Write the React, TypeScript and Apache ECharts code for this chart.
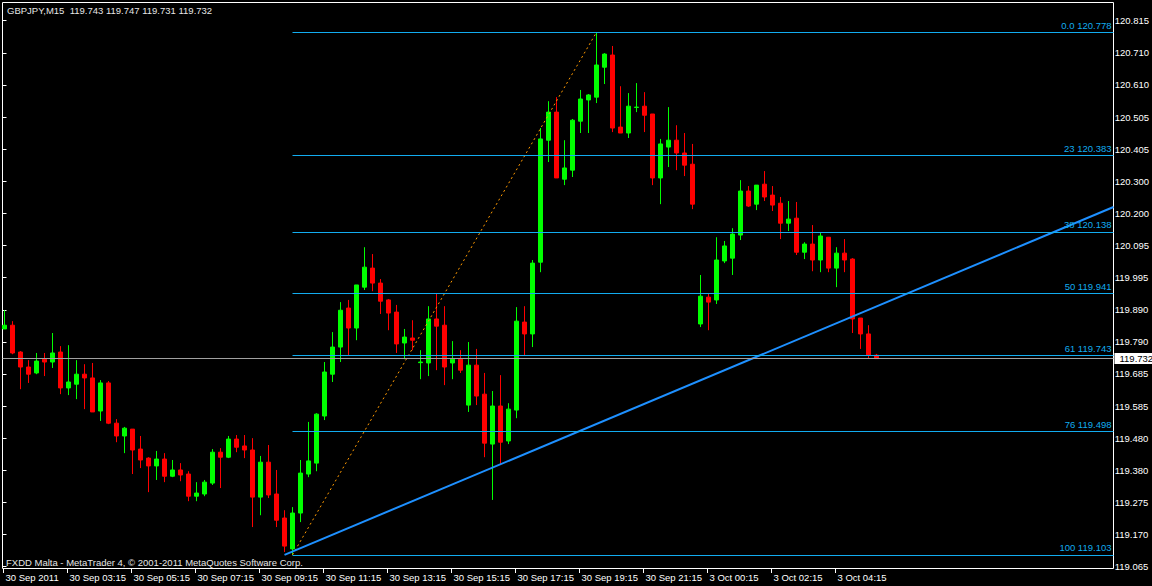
import React, { useEffect, useRef } from 'react';
import * as echarts from 'echarts';

// ---- data (GBPJPY M15) ----
const opens = [
  119.827, 119.839, 119.753, 119.705, 119.686, 119.730, 119.721, 119.753, 119.638, 119.650,
  119.682, 119.670, 119.564, 119.654, 119.525, 119.484, 119.506, 119.442, 119.413, 119.388,
  119.410, 119.355, 119.375, 119.362, 119.291, 119.298, 119.333, 119.432, 119.416, 119.474,
  119.452, 119.439, 119.288, 119.400, 119.298, 119.221, 119.122, 119.237, 119.362, 119.397,
  119.548, 119.682, 119.769, 119.894, 119.830, 119.961, 120.022, 119.974, 119.920, 119.881,
  119.782, 119.798, 119.719, 119.718, 119.859, 119.839, 119.718, 119.730, 119.583, 119.711,
  119.618, 119.458, 119.580, 119.468, 119.567, 119.849, 119.811, 120.041, 120.432, 120.522,
  120.307, 120.336, 120.493, 120.561, 120.570, 120.666, 120.705, 120.474, 120.455, 120.537,
  120.541, 120.516, 120.311, 120.410, 120.432, 120.391, 120.355, 119.843, 119.929, 119.920,
  120.045, 120.054, 120.128, 120.269, 120.227, 120.291, 120.256, 120.230, 120.166, 120.182,
  120.073, 120.099, 120.048, 120.121, 120.022, 120.070, 120.051, 119.862, 119.811, 119.743,
];
const closes = [
  119.839, 119.750, 119.705, 119.682, 119.724, 119.721, 119.750, 119.638, 119.657, 119.682,
  119.670, 119.561, 119.654, 119.525, 119.484, 119.509, 119.439, 119.407, 119.388, 119.410,
  119.355, 119.375, 119.359, 119.291, 119.301, 119.336, 119.432, 119.416, 119.474, 119.448,
  119.439, 119.288, 119.400, 119.295, 119.214, 119.131, 119.237, 119.365, 119.404, 119.554,
  119.689, 119.769, 119.887, 119.830, 119.968, 120.025, 119.974, 119.916, 119.878, 119.779,
  119.801, 119.791, 119.721, 119.859, 119.836, 119.705, 119.730, 119.695, 119.711, 119.612,
  119.461, 119.580, 119.464, 119.570, 119.852, 119.811, 120.038, 120.436, 120.522, 120.311,
  120.343, 120.496, 120.564, 120.577, 120.673, 120.708, 120.471, 120.455, 120.541, 120.538,
  120.512, 120.311, 120.420, 120.432, 120.391, 120.352, 120.227, 119.932, 119.913, 120.048,
  120.093, 120.131, 120.269, 120.221, 120.288, 120.250, 120.224, 120.166, 120.179, 120.073,
  120.099, 120.048, 120.125, 120.022, 120.070, 120.048, 119.859, 119.811, 119.743, 119.732,
];
const lows = [
  119.827, 119.746, 119.634, 119.654, 119.682, 119.676, 119.702, 119.618, 119.615, 119.602,
  119.570, 119.561, 119.532, 119.522, 119.464, 119.429, 119.362, 119.381, 119.304, 119.343,
  119.336, 119.352, 119.339, 119.275, 119.275, 119.291, 119.327, 119.317, 119.413, 119.432,
  119.413, 119.192, 119.230, 119.285, 119.192, 119.112, 119.103, 119.208, 119.352, 119.371,
  119.535, 119.657, 119.721, 119.743, 119.791, 119.952, 119.948, 119.875, 119.823, 119.750,
  119.730, 119.759, 119.666, 119.676, 119.695, 119.647, 119.666, 119.686, 119.561, 119.583,
  119.416, 119.279, 119.391, 119.458, 119.541, 119.743, 119.769, 120.009, 120.362, 120.311,
  120.288, 120.314, 120.455, 120.455, 120.551, 120.612, 120.458, 120.455, 120.439, 120.522,
  120.458, 120.288, 120.227, 120.346, 120.336, 120.317, 120.211, 119.833, 119.823, 119.907,
  120.038, 120.000, 120.112, 120.218, 120.208, 120.237, 120.205, 120.115, 120.141, 120.064,
  120.051, 120.012, 120.009, 120.009, 119.961, 120.009, 119.814, 119.763, 119.734, 119.731,
];
const highs = [
  119.887, 119.852, 119.756, 119.727, 119.750, 119.750, 119.814, 119.772, 119.775, 119.727,
  119.714, 119.718, 119.663, 119.660, 119.538, 119.513, 119.506, 119.484, 119.416, 119.436,
  119.429, 119.407, 119.397, 119.371, 119.336, 119.343, 119.442, 119.445, 119.484, 119.487,
  119.487, 119.477, 119.420, 119.455, 119.375, 119.246, 119.256, 119.407, 119.529, 119.557,
  119.721, 119.817, 119.913, 119.920, 119.968, 120.089, 120.067, 119.987, 119.923, 119.904,
  119.827, 119.855, 119.759, 119.900, 119.939, 119.900, 119.788, 119.759, 119.785, 119.763,
  119.686, 119.628, 119.679, 119.589, 119.897, 119.900, 120.048, 120.471, 120.557, 120.570,
  120.432, 120.500, 120.593, 120.580, 120.778, 120.711, 120.734, 120.605, 120.583, 120.615,
  120.586, 120.516, 120.436, 120.538, 120.480, 120.455, 120.420, 120.000, 119.939, 120.121,
  120.109, 120.150, 120.304, 120.285, 120.288, 120.333, 120.285, 120.250, 120.237, 120.234,
  120.105, 120.160, 120.137, 120.121, 120.089, 120.115, 120.054, 119.862, 119.839, 119.747,
];

const timeLabels = [
  '30 Sep 2011', '30 Sep 03:15', '30 Sep 05:15', '30 Sep 07:15', '30 Sep 09:15',
  '30 Sep 11:15', '30 Sep 13:15', '30 Sep 15:15', '30 Sep 17:15', '30 Sep 19:15',
  '30 Sep 21:15', '3 Oct 00:15', '3 Oct 02:15', '3 Oct 04:15',
];
const timeLabelStep = 8; // bars between time labels

const priceLabels = [
  '119.065', '119.170', '119.275', '119.380', '119.480', '119.585', '119.685', '119.790', '119.890',
  '119.995', '120.095', '120.200', '120.300', '120.405', '120.505', '120.610', '120.710', '120.815',
];

const fibLevels = ['0.0', '23', '38', '50', '61', '76', '100'];
const fibPrices = [120.778, 120.383, 120.138, 119.941, 119.743, 119.498, 119.103];
const fibStartBar = 36;
const fibEndBar = 74;

const trendStart = [35, 119.103];
const trendEndPrice = 120.218;

const lastPrice = 119.732;
const headerText = 'GBPJPY,M15  119.743 119.747 119.731 119.732';
const footerText = 'FXDD Malta - MetaTrader 4, \u00A9 2001-2011 MetaQuotes Software Corp.';

// ---- layout ----
const W = 1152;
const H = 586;
const plotLeft = 2.5;
const plotRight = 1113.5;
const plotTop = 2.5;
const plotBottom = 568.5;
const barSpacing = 8;
const firstBarX = 4.5;
const labelTopY = 20.7;
const labelBottomY = 566.7;

const FONT = '"Liberation Sans", Arial, sans-serif';
const FS = 9.5;
const FIB = '#12acef';

export default function App() {
  const ref = useRef<HTMLDivElement>(null);

  useEffect(() => {
    document.body.style.margin = '0';
    document.body.style.background = '#000';
    if (!ref.current) return;
    const chart = echarts.init(ref.current, undefined, { renderer: 'svg' });

    const xMin = -(firstBarX - plotLeft) / barSpacing;
    const xMax = xMin + (plotRight - plotLeft) / barSpacing;
    const pTop = parseFloat(priceLabels[priceLabels.length - 1]);
    const pBot = parseFloat(priceLabels[0]);
    const pxPerUnit = (labelBottomY - labelTopY) / (pTop - pBot);
    const yMax = pTop + (labelTopY - plotTop) / pxPerUnit;
    const yMin = pBot - (plotBottom - labelBottomY) / pxPerUnit;

    const candleData = opens.map((o, i) => [i, o, closes[i], lows[i], highs[i]]);
    const lastTickBar = (timeLabels.length - 1) * timeLabelStep;

    const fibLines = fibPrices.map((p, i) => [
      {
        coord: [fibStartBar, p],
        name: `${fibLevels[i]} ${p.toFixed(3)}`,
        lineStyle: { color: FIB, width: 1, type: 'solid' },
        label: {
          show: true,
          position: 'insideEndTop',
          formatter: '{b}',
          color: FIB,
          fontSize: FS,
          fontFamily: FONT,
          distance: 2,
        },
      },
      { coord: [xMax, p] },
    ]);

    const priceLine = [
      {
        coord: [xMin, lastPrice],
        name: lastPrice.toFixed(3),
        lineStyle: { color: '#a0a0a0', width: 1, type: 'solid' },
        label: {
          show: true,
          position: 'end',
          formatter: '{b}',
          color: '#000',
          backgroundColor: '#fff',
          fontSize: FS,
          fontFamily: FONT,
          padding: [1, 6, 0, 5],
          distance: 1,
        },
      },
      { coord: [xMax, lastPrice] },
    ];

    chart.setOption({
      animation: false,
      backgroundColor: '#000',
      grid: [
        {
          left: plotLeft,
          top: plotTop,
          width: plotRight - plotLeft,
          height: plotBottom - plotTop,
          show: true,
          borderColor: '#fff',
          borderWidth: 1,
          backgroundColor: 'transparent',
        },
        {
          left: firstBarX - 1,
          top: plotTop,
          width: lastTickBar * barSpacing,
          height: plotBottom + 0.5 - plotTop,
        },
        {
          left: plotLeft,
          top: labelTopY,
          width: plotRight - plotLeft,
          height: labelBottomY - labelTopY,
        },
      ],
      xAxis: [
        { gridIndex: 0, type: 'value', min: xMin, max: xMax, show: false },
        {
          gridIndex: 1,
          type: 'value',
          min: 0,
          max: lastTickBar,
          interval: timeLabelStep,
          axisLine: { show: false },
          splitLine: { show: false },
          axisTick: { show: true, length: 4, lineStyle: { color: '#fff', width: 1 } },
          axisLabel: {
            color: '#fff',
            fontSize: FS,
            fontFamily: FONT,
            align: 'left',
            margin: 3,
            padding: [0, 0, 0, 2],
            formatter: (v: number) => timeLabels[Math.round(v / timeLabelStep)] ?? '',
          },
        },
        { gridIndex: 2, type: 'value', show: false, min: 0, max: 1 },
      ],
      yAxis: [
        { gridIndex: 0, type: 'value', min: yMin, max: yMax, show: false },
        { gridIndex: 1, type: 'value', show: false, min: 0, max: 1 },
        {
          gridIndex: 2,
          type: 'value',
          position: 'right',
          min: 0,
          max: priceLabels.length - 1,
          interval: 1,
          axisLine: { show: false },
          splitLine: { show: false },
          axisTick: { show: true, length: 4, lineStyle: { color: '#fff', width: 1 } },
          axisLabel: {
            color: '#fff',
            fontSize: FS,
            fontFamily: FONT,
            margin: 6,
            formatter: (v: number) => priceLabels[Math.round(v)] ?? '',
          },
        },
      ],
      series: [
        {
          type: 'candlestick',
          xAxisIndex: 0,
          yAxisIndex: 0,
          data: candleData,
          encode: { x: 0, y: [1, 2, 3, 4] },
          barWidth: 4,
          z: 2,
          silent: true,
          itemStyle: {
            color: '#00ff00',
            color0: '#ff0000',
            borderColor: '#00ff00',
            borderColor0: '#ff0000',
            borderWidth: 1,
          },
        },
        {
          type: 'line',
          xAxisIndex: 0,
          yAxisIndex: 0,
          data: [
            [fibStartBar, fibPrices[fibPrices.length - 1]],
            [fibEndBar, fibPrices[0]],
          ],
          symbol: 'none',
          silent: true,
          z: 3,
          lineStyle: { color: '#ff9a00', width: 1, type: [2, 3] },
        },
        {
          type: 'line',
          xAxisIndex: 0,
          yAxisIndex: 0,
          data: [trendStart, [xMax, trendEndPrice]],
          symbol: 'none',
          silent: true,
          clip: false,
          z: 4,
          lineStyle: { color: '#1e90ff', width: 2 },
          markLine: {
            silent: true,
            symbol: ['none', 'none'],
            animation: false,
            data: [...fibLines, priceLine],
          },
        },
      ],
      graphic: [
        {
          type: 'text',
          left: 7,
          top: 5,
          silent: true,
          style: { text: headerText, fill: '#e6e6e6', fontSize: FS, fontFamily: FONT },
        },
        {
          type: 'text',
          left: 6,
          top: 557,
          silent: true,
          style: { text: footerText, fill: '#e6e6e6', fontSize: FS, fontFamily: FONT },
        },
      ],
    });

    return () => chart.dispose();
  }, []);

  return <div ref={ref} style={{ width: W, height: H }} />;
}
